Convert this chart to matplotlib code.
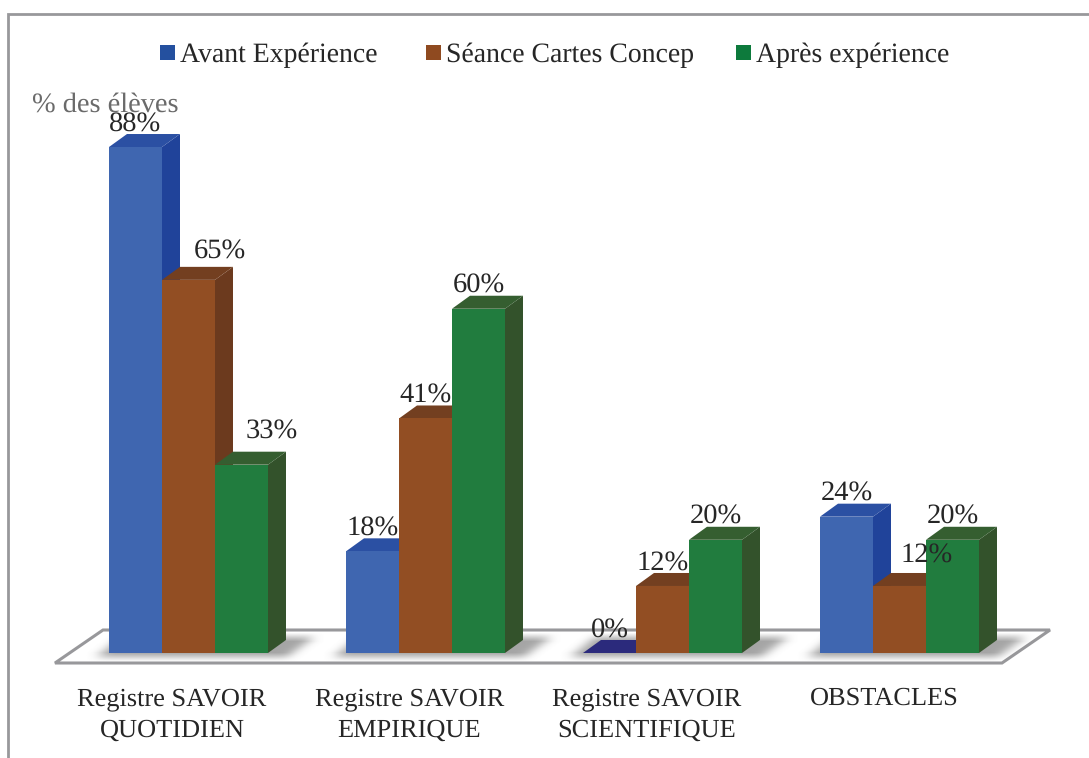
import numpy as np
from matplotlib import pyplot as plt
from matplotlib.patches import Polygon, Rectangle
from matplotlib.path import Path

categories = [
    "Registre SAVOIR\nQUOTIDIEN",
    "Registre SAVOIR\nEMPIRIQUE",
    "Registre SAVOIR\nSCIENTIFIQUE",
    "OBSTACLES",
]
series_names = ["Avant Expérience", "Séance Cartes Concep", "Après expérience"]
avant = [88, 18, 0, 24]
seance = [65, 41, 12, 12]
apres = [33, 60, 20, 20]

front_colors = ["#3f66b0", "#924e23", "#217c3e"]
top_colors = ["#2b50a3", "#733f20", "#355e30"]
side_colors = ["#20439a", "#6c3a1e", "#33522b"]
legend_colors = ["#24509f", "#8f4a20", "#0d7a3c"]
zero_color = "#2b2a7c"

W, H = 1089, 758
PX_X = 237.0  # pixels per group
PX_Y = 5.776  # pixels per percent
X0 = 188.5  # pixel centre of the first group's blue/orange area
Y0 = 655.3  # pixel of 0 %
BASE = 0.4  # bars stand slightly above the zero of the scale
BAR = 53.0 / PX_X
DX = 18.0 / PX_X
DY = 13.0 / PX_Y

# labels moved off their bars: (series, group) -> pixels right, pixels down
label_nudge = {(1, 0): (31, -5), (2, 0): (30, -10), (1, 3): (27, -8)}

plt.rcParams["font.family"] = ["Liberation Serif", "DejaVu Serif"]
plt.rcParams["text.hinting"] = "none"
fig = plt.figure(figsize=(W / 100, H / 100), dpi=100)

# background in pixel coordinates: frame, floor, shadows
bg = fig.add_axes([0, 0, 1, 1])
bg.set_xlim(0, W)
bg.set_ylim(H, 0)
bg.axis("off")
grey = "#98989b"
bg.plot([8, 8, W], [H, 14, 14], color=grey, lw=2, solid_joinstyle="miter")
bg.add_patch(Polygon([(55, 663), (1002, 663), (1050, 630), (103, 630)], closed=True,
                     facecolor="white", edgecolor=grey, lw=2.2, zorder=1))

# soft shadow under each group: blurred parallelograms
xx, yy = np.meshgrid(np.arange(W), np.arange(H))
pts = np.column_stack([xx.ravel() + 0.5, yy.ravel() + 0.5])
mask = np.zeros((H, W))
for i in range(4):
    left = 109 + 237 * i
    shape = Path([(left - 12, 657), (left + 178, 657), (left + 205, 637), (left + 12, 637)])
    mask += shape.contains_points(pts).reshape(H, W)
kernel = np.exp(-0.5 * (np.arange(-15, 16) / 6.0) ** 2)
kernel /= kernel.sum()
short = kernel[11:20] / kernel[11:20].sum()
mask = np.apply_along_axis(lambda r: np.convolve(r, kernel, mode="same"), 1, mask)
mask = np.apply_along_axis(lambda c: np.convolve(c, short, mode="same"), 0, mask)
shadow = np.zeros((H, W, 4))
shadow[..., :3] = 0.5
shadow[..., 3] = np.clip(mask, 0, 1) * 0.7
bg.imshow(shadow, extent=(0, W, H, 0), zorder=2, interpolation="bilinear", aspect="auto")
bg.set_xlim(0, W)
bg.set_ylim(H, 0)

# bars live in their own axes: x = group index, y = percent
ax = fig.add_axes([0, 0, 1, 1], facecolor="none")
ax.set_xlim(-X0 / PX_X, (W - X0) / PX_X)
ax.set_ylim(-(H - Y0) / PX_Y, Y0 / PX_Y)
ax.axis("off")

for s, values in enumerate([avant, seance, apres]):
    for g, v in enumerate(values):
        left = g + (s - 1.5) * BAR
        right = left + BAR
        top = max(v, BASE)
        z = 10 + s
        if v == 0:
            ax.add_patch(Polygon([(left, top), (right, top), (right + DX, top + DY), (left + DX, top + DY)],
                                 closed=True, facecolor=zero_color, edgecolor="none", zorder=z))
        else:
            ax.add_patch(Polygon([(right, BASE), (right + DX, BASE + DY), (right + DX, top + DY), (right, top)],
                                 closed=True, facecolor=side_colors[s], edgecolor="none", zorder=z))
            ax.add_patch(Polygon([(left, top), (right, top), (right + DX, top + DY), (left + DX, top + DY)],
                                 closed=True, facecolor=top_colors[s], edgecolor="none", zorder=z))
            ax.bar(left, top - BASE, BAR, bottom=BASE, align="edge", color=front_colors[s], zorder=z)
        nx, ny = label_nudge.get((s, g), (0, 0))
        ax.text(left + BAR / 2 + nx / PX_X, top + DY + (9.5 - ny) / PX_Y, f"{v}%", ha="center", va="center",
                fontsize=20.5, color="#262626", zorder=30)

for g, name in enumerate(categories):
    fig.text((172 + g * 237.5) / W, 1 - 687 / H, name, ha="center", va="top", fontsize=19,
             color="#262626", linespacing=1.45, zorder=30)

fig.text(32 / W, 1 - 105 / H, "% des élèves", ha="left", va="center", fontsize=20.4, color="#6a6a6a", zorder=25)

legend_x = [160, 426, 736]
for x, name, c in zip(legend_x, series_names, legend_colors):
    bg.add_patch(Rectangle((x, 45), 15, 15, facecolor=c, edgecolor="none"))
    bg.text(x + 20, 55, name, ha="left", va="center", fontsize=20, color="#262626")

fig.savefig("out.png", dpi=100)
